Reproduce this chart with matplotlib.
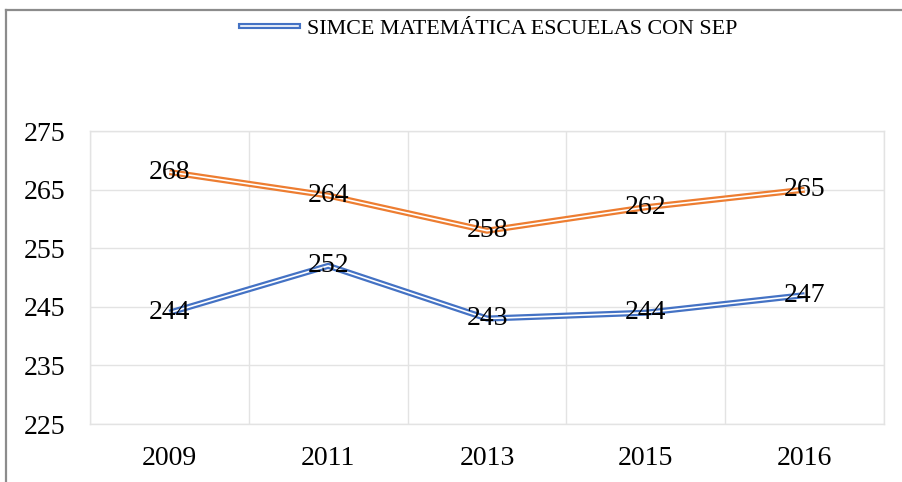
import numpy as np
import matplotlib
matplotlib.use('Agg')
import matplotlib.pyplot as plt
from matplotlib.lines import Line2D
from matplotlib.legend_handler import HandlerTuple

years = ['2009', '2011', '2013', '2015', '2016']
orange_vals = [268, 264, 258, 262, 265]
blue_vals = [244, 252, 243, 244, 247]
legend_label = 'SIMCE MATEMÁTICA ESCUELAS CON SEP'

plt.rcParams['font.family'] = ['Liberation Serif', 'DejaVu Serif']

fig = plt.figure(figsize=(9.03, 4.82), dpi=100)
ax = fig.add_axes([0.0997, 0.1203, 0.8793, 0.6077])

x = np.arange(len(years))
grid_c = '#E3E3E3'
outer_lw = 4.4
inner_lw = 1.2

def double_line(xs, ys, color):
    ax.plot(xs, ys, color=color, lw=outer_lw, solid_capstyle='butt', zorder=3)
    ax.plot(xs, ys, color='white', lw=inner_lw, solid_capstyle='butt', zorder=4)

double_line(x, orange_vals, '#ED7D31')
double_line(x, blue_vals, '#4472C4')

for xi, v in zip(x, orange_vals):
    ax.text(xi, v, str(v), ha='center', va='center', fontsize=20, zorder=5)
for xi, v in zip(x, blue_vals):
    ax.text(xi, v, str(v), ha='center', va='center', fontsize=20, zorder=5)

ax.set_xlim(-0.5, len(years) - 0.5)
ax.set_ylim(225, 275)
ax.set_yticks(np.arange(225, 276, 10))
ax.set_xticks(x)
ax.set_xticklabels(years)
ax.set_xticks(np.arange(-0.5, len(years), 1), minor=True)
ax.tick_params(axis='both', which='both', length=0, labelsize=20)
ax.tick_params(axis='y', pad=18)
ax.tick_params(axis='x', pad=16)
ax.grid(True, axis='y', color=grid_c, lw=1)
ax.grid(True, axis='x', which='minor', color=grid_c, lw=1)
for s in ax.spines.values():
    s.set_color(grid_c)
    s.set_linewidth(1)
ax.set_axisbelow(True)

h = (Line2D([], [], color='#4472C4', lw=outer_lw), Line2D([], [], color='white', lw=inner_lw))
fig.legend([h], [legend_label], handler_map={tuple: HandlerTuple(ndivide=1, pad=0)},
           loc='center', bbox_to_anchor=(489 / 903, 1 - 29 / 482), frameon=False,
           fontsize=15.8, handlelength=2.6, handletextpad=0.4)

# chart border (top and left edges visible)
fig.add_artist(Line2D([6 / 903, 1], [1 - 10 / 482, 1 - 10 / 482], color='#8C8C8C', lw=1.6))
fig.add_artist(Line2D([6 / 903, 6 / 903], [0, 1 - 10 / 482], color='#8C8C8C', lw=1.6))

fig.savefig('out.png', dpi=100)
